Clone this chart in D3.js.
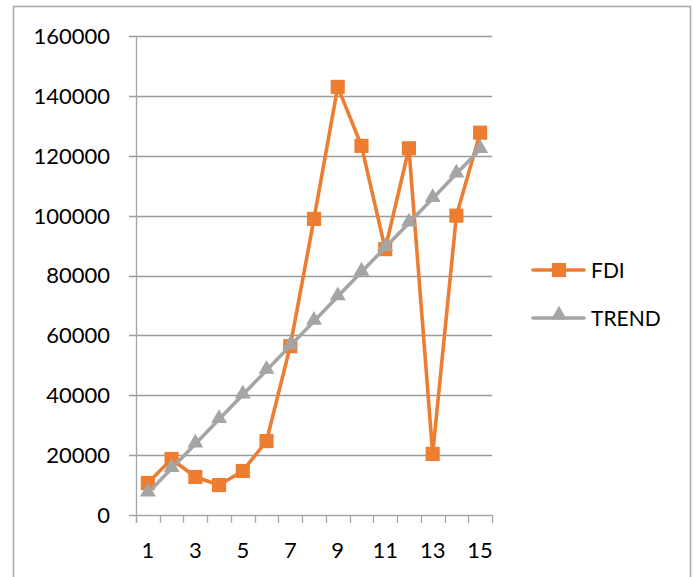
<!DOCTYPE html>
<html>
<head>
<meta charset="utf-8">
<script src="https://cdn.jsdelivr.net/npm/d3@7"></script>
<style>
  html, body { margin: 0; padding: 0; background: #fff; }
  svg { display: block; font-family: Lato, "Open Sans", sans-serif; }
</style>
</head>
<body>
<svg id="chart" width="693" height="577"></svg>
<script>
// Categories (periods) and series values
const categories = [1, 2, 3, 4, 5, 6, 7, 8, 9, 10, 11, 12, 13, 14, 15];
const fdiValues = [10700, 18700, 12700, 10000, 14700, 24700, 56400, 98900, 143000, 123300, 88800, 122500, 20400, 100000, 127700];
const trendValues = [7350, 15550, 23750, 31950, 40150, 48350, 56550, 64750, 72950, 81150, 89350, 97550, 105750, 113950, 122150];
const yTicks = [0, 20000, 40000, 60000, 80000, 100000, 120000, 140000, 160000];
const xTickLabels = [1, 3, 5, 7, 9, 11, 13, 15];
const seriesNames = ["FDI", "TREND"];

const ORANGE = "#ED7D31";
const GRAY = "#A5A5A5";
const AXIS = "#A6A6A6";
const GRID = "#9A9A9A";

const svg = d3.select("#chart");

// Outer chart frame
svg.append("rect")
  .attr("x", 13.5).attr("y", 6.5)
  .attr("width", 677).attr("height", 620)
  .attr("fill", "none").attr("stroke", AXIS).attr("stroke-width", 1.5);

const plot = { left: 136, right: 492, top: 36, bottom: 515 };

const x = d3.scaleBand().domain(categories).range([plot.left, plot.right]).padding(0);
const y = d3.scaleLinear().domain([0, 160000]).range([plot.bottom, plot.top]);
const cx = d => x(d) + x.bandwidth() / 2;

// Horizontal gridlines and y labels
const yAxis = svg.append("g");
yAxis.selectAll("line.grid").data(yTicks).join("line")
  .attr("class", "grid")
  .attr("x1", plot.left - 7).attr("x2", plot.right)
  .attr("y1", d => Math.round(y(d)) + 0.5).attr("y2", d => Math.round(y(d)) + 0.5)
  .attr("stroke", d => d === 0 ? AXIS : GRID).attr("stroke-width", 1.3);
yAxis.selectAll("text").data(yTicks).join("text")
  .attr("x", 110).attr("y", d => y(d))
  .attr("dy", "0.36em")
  .attr("text-anchor", "end")
  .attr("font-size", 22).attr("fill", "#000")
  .text(d => d);

// Vertical axis line
svg.append("line")
  .attr("x1", plot.left + 0.5).attr("x2", plot.left + 0.5)
  .attr("y1", plot.top).attr("y2", plot.bottom + 7)
  .attr("stroke", AXIS).attr("stroke-width", 1.3);

// Category tick marks at band boundaries
const boundaries = categories.map(d => x(d)).concat([plot.right]);
svg.append("g").selectAll("line").data(boundaries).join("line")
  .attr("x1", d => Math.round(d) + 0.5).attr("x2", d => Math.round(d) + 0.5)
  .attr("y1", plot.bottom).attr("y2", plot.bottom + 8)
  .attr("stroke", AXIS).attr("stroke-width", 1.3);

// Category labels
svg.append("g").selectAll("text").data(xTickLabels).join("text")
  .attr("x", d => cx(d)).attr("y", 558)
  .attr("text-anchor", "middle")
  .attr("font-size", 22).attr("fill", "#000")
  .text(d => d);

const line = d3.line().x(d => cx(d.c)).y(d => y(d.v));
const fdiData = categories.map((c, i) => ({ c, v: fdiValues[i] }));
const trendData = categories.map((c, i) => ({ c, v: trendValues[i] }));

const square = d3.symbol().type(d3.symbolSquare).size(200);
const triangle = d3.symbol().type(d3.symbolTriangle).size(110);

// FDI series
svg.append("path").datum(fdiData)
  .attr("d", line).attr("fill", "none")
  .attr("stroke", ORANGE).attr("stroke-width", 3.6).attr("stroke-linejoin", "round");
svg.append("g").selectAll("path").data(fdiData).join("path")
  .attr("transform", d => `translate(${cx(d.c)},${y(d.v)})`)
  .attr("d", square).attr("fill", ORANGE);

// TREND series
svg.append("path").datum(trendData)
  .attr("d", line).attr("fill", "none")
  .attr("stroke", GRAY).attr("stroke-width", 3.6).attr("stroke-linejoin", "round");
svg.append("g").selectAll("path").data(trendData).join("path")
  .attr("transform", d => `translate(${cx(d.c)},${y(d.v) - 1})`)
  .attr("d", triangle).attr("fill", GRAY);

// Legend
const legend = svg.append("g");
const legendRows = [
  { name: seriesNames[0], color: ORANGE, sym: square, y: 270 },
  { name: seriesNames[1], color: GRAY, sym: triangle, y: 318 }
];
legendRows.forEach(r => {
  legend.append("line")
    .attr("x1", 533).attr("x2", 584).attr("y1", r.y).attr("y2", r.y)
    .attr("stroke", r.color).attr("stroke-width", 3.6).attr("stroke-linecap", "round");
  legend.append("path")
    .attr("transform", `translate(559,${r.y - (r.sym === triangle ? 3 : 0)})`)
    .attr("d", r.sym).attr("fill", r.color);
  legend.append("text")
    .attr("x", 591).attr("y", r.y).attr("dy", "0.36em")
    .attr("font-size", 21).attr("fill", "#000")
    .text(r.name);
});
</script>
</body>
</html>
